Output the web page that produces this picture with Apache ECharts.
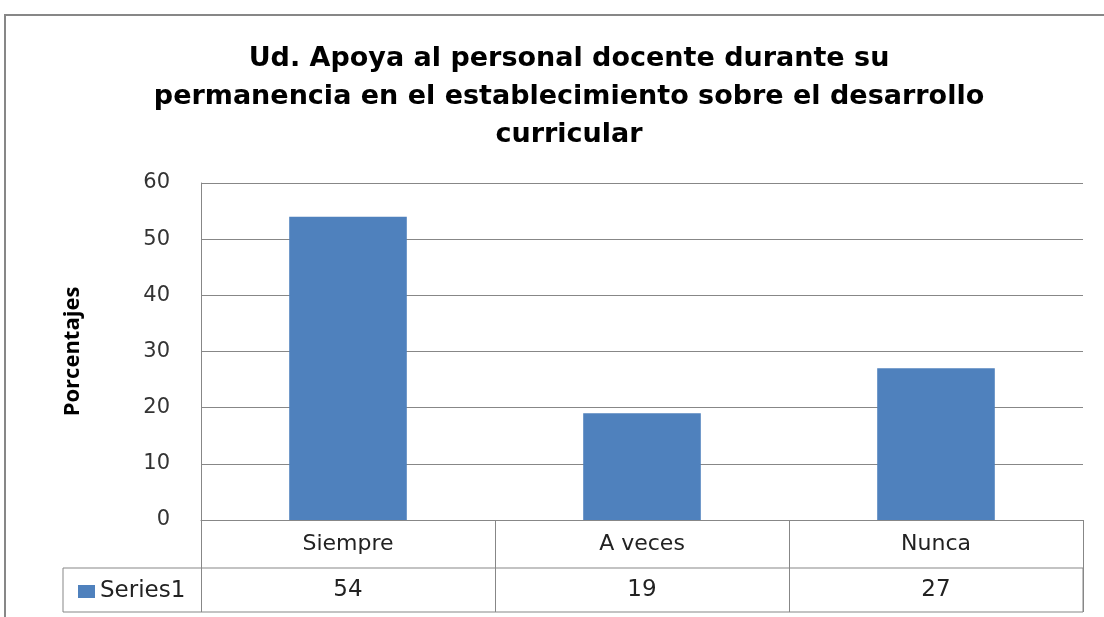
<!DOCTYPE html>
<html>
<head>
<meta charset="utf-8">
<script src="https://cdn.jsdelivr.net/npm/echarts@6/dist/echarts.min.js"></script>
<style>
  html, body { margin: 0; padding: 0; background: #fff; }
  #chart { width: 1104px; height: 617px; }
</style>
</head>
<body>
<div id="chart"></div>
<script>
var chart = echarts.init(document.getElementById('chart'));

// datos
var categorias = ['Siempre', 'A veces', 'Nunca'];
var valores = [54, 19, 27];
var serieNombre = 'Series1';
var ejeY = { min: 0, max: 60, interval: 10 };

var gris = '#878787';
var azul = '#4F81BD';
var fuenteTabla = 'DejaVu Sans';

var option = {
    animation: false,
    title: {
        text: 'Ud. Apoya al personal docente durante su\npermanencia en el establecimiento sobre el desarrollo\ncurricular',
        left: 564,
        top: 35,
        textAlign: 'center',
        textStyle: {
            fontFamily: 'DejaVu Sans',
            fontWeight: 'bold',
            fontSize: 27,
            lineHeight: 38,
            color: '#000'
        }
    },
    legend: {
        left: 73,
        top: 575,
        icon: 'rect',
        itemWidth: 17,
        itemHeight: 13,
        itemGap: 5,
        textStyle: { fontFamily: fuenteTabla, fontSize: 23, color: '#222' },
        data: [serieNombre]
    },
    grid: { left: 201, right: 21, top: 183, bottom: 97, containLabel: false },
    xAxis: [{
        type: 'category',
        data: categorias,
        position: 'bottom',
        axisLine: { show: true, lineStyle: { color: gris, width: 1 } },
        axisTick: { show: true, interval: 0, length: 92, lineStyle: { color: gris } },
        axisLabel: { margin: 13, fontFamily: fuenteTabla, fontSize: 22, color: '#222' }
    }, {
        type: 'category',
        data: valores.map(String),
        position: 'bottom',
        offset: 48,
        axisLine: { show: false },
        axisTick: { show: false },
        axisLabel: { margin: 11, fontFamily: fuenteTabla, fontSize: 23, color: '#222' }
    }],
    yAxis: {
        type: 'value',
        min: ejeY.min,
        max: ejeY.max,
        interval: ejeY.interval,
        name: 'Porcentajes',
        nameLocation: 'middle',
        nameRotate: 90,
        nameGap: 117,
        nameTextStyle: {
            fontFamily: 'Open Sans',
            fontWeight: 'bold',
            fontSize: 22,
            color: '#000'
        },
        axisLine: { show: true, lineStyle: { color: gris } },
        axisTick: { show: false },
        axisLabel: { margin: 31, fontFamily: fuenteTabla, fontSize: 21, color: '#333' },
        splitLine: { show: true, lineStyle: { color: gris, width: 1 } }
    },
    series: [{
        type: 'bar',
        name: serieNombre,
        data: valores,
        barWidth: '40%',
        itemStyle: { color: azul }
    }],
    graphic: [{
        type: 'rect',
        shape: { x: 5, y: 15, width: 1120, height: 640 },
        style: { fill: 'none', stroke: gris, lineWidth: 2 },
        silent: true
    }, {
        type: 'rect',
        shape: { x: 63, y: 568, width: 1020, height: 44 },
        style: { fill: 'none', stroke: gris, lineWidth: 1 },
        silent: true
    }]
};

chart.setOption(option);
</script>
</body>
</html>
